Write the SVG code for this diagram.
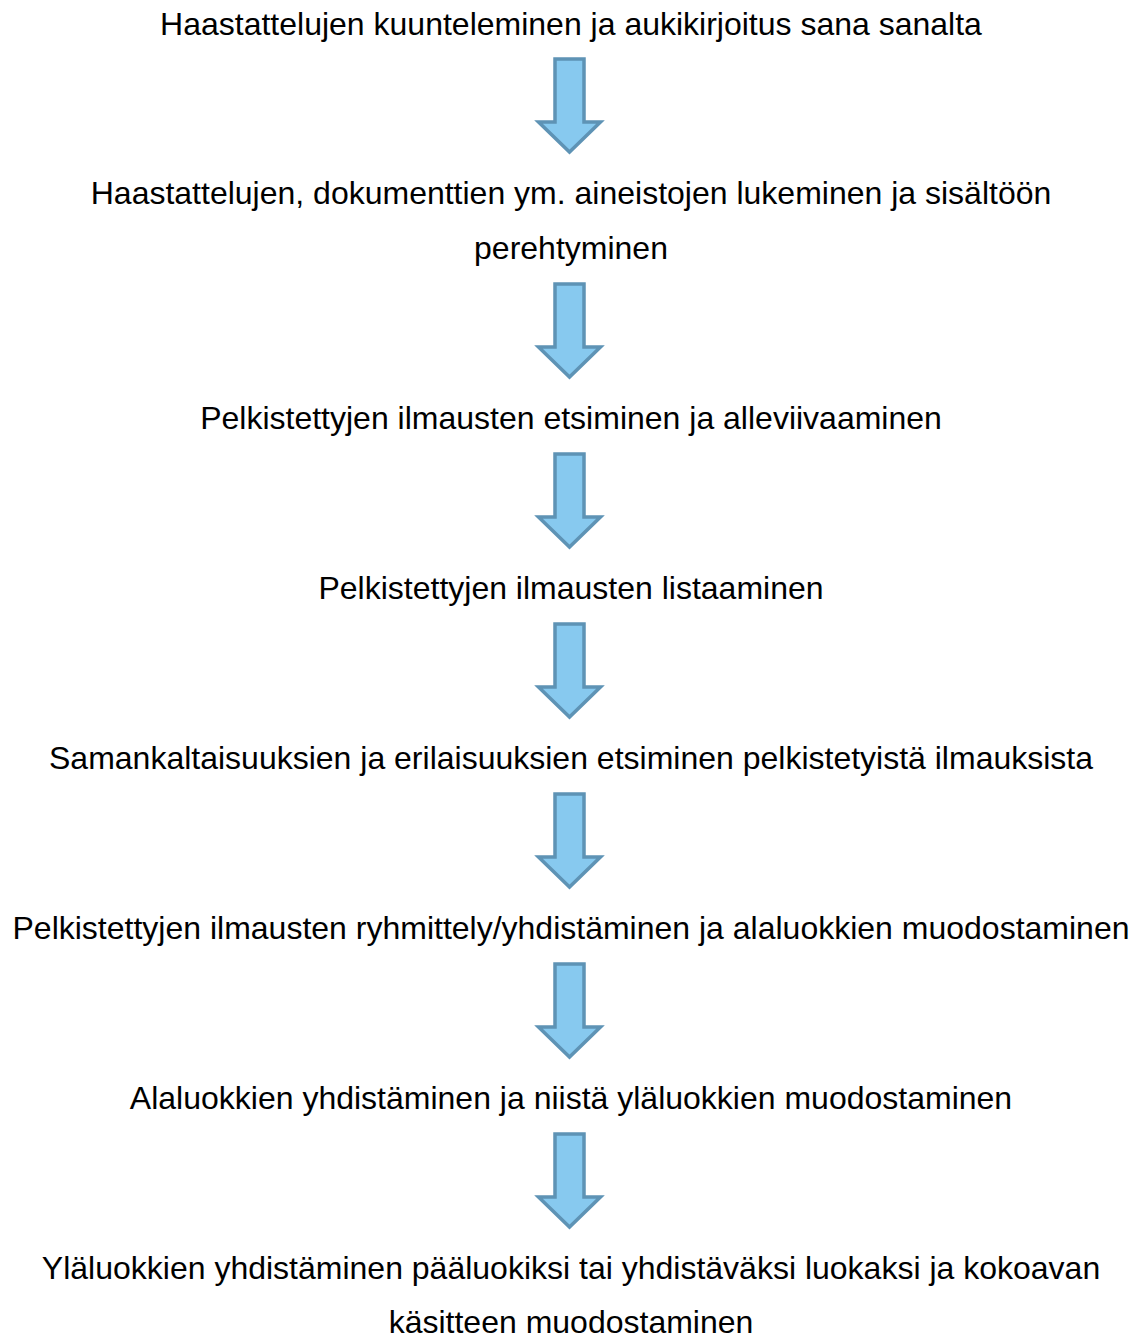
<svg xmlns="http://www.w3.org/2000/svg" width="1142" height="1335" viewBox="0 0 1142 1335">
<style>
text{font-family:"Liberation Sans",Arial,sans-serif;font-size:32px;fill:#000;text-anchor:middle}
.arr{fill:#87C9EF;stroke:#5E93B5;stroke-width:3.5;stroke-linejoin:miter}
</style>
<defs>
<path id="a" d="M-14.5,0 H14.5 V63 H31 L0,93 L-31,63 H-14.5 Z"/>
</defs>
<rect width="1142" height="1335" fill="#fff"/>
<g id="n1"><text x="571" y="35">Haastattelujen kuunteleminen ja aukikirjoitus sana sanalta</text></g>
<g id="n2"><text x="571" y="204">Haastattelujen, dokumenttien ym. aineistojen lukeminen ja sisältöön</text><text x="571" y="259">perehtyminen</text></g>
<g id="n3"><text x="571" y="429">Pelkistettyjen ilmausten etsiminen ja alleviivaaminen</text></g>
<g id="n4"><text x="571" y="599">Pelkistettyjen ilmausten listaaminen</text></g>
<g id="n5"><text x="571" y="769">Samankaltaisuuksien ja erilaisuuksien etsiminen pelkistetyistä ilmauksista</text></g>
<g id="n6"><text x="571" y="939">Pelkistettyjen ilmausten ryhmittely/yhdistäminen ja alaluokkien muodostaminen</text></g>
<g id="n7"><text x="571" y="1109">Alaluokkien yhdistäminen ja niistä yläluokkien muodostaminen</text></g>
<g id="n8"><text x="571" y="1279">Yläluokkien yhdistäminen pääluokiksi tai yhdistäväksi luokaksi ja kokoavan</text><text x="571" y="1333">käsitteen muodostaminen</text></g>
<g id="connectors">
<use href="#a" class="arr" x="569.5" y="59"/>
<use href="#a" class="arr" x="569.5" y="284"/>
<use href="#a" class="arr" x="569.5" y="454"/>
<use href="#a" class="arr" x="569.5" y="624"/>
<use href="#a" class="arr" x="569.5" y="794"/>
<use href="#a" class="arr" x="569.5" y="964"/>
<use href="#a" class="arr" x="569.5" y="1134"/>
</g>
</svg>
